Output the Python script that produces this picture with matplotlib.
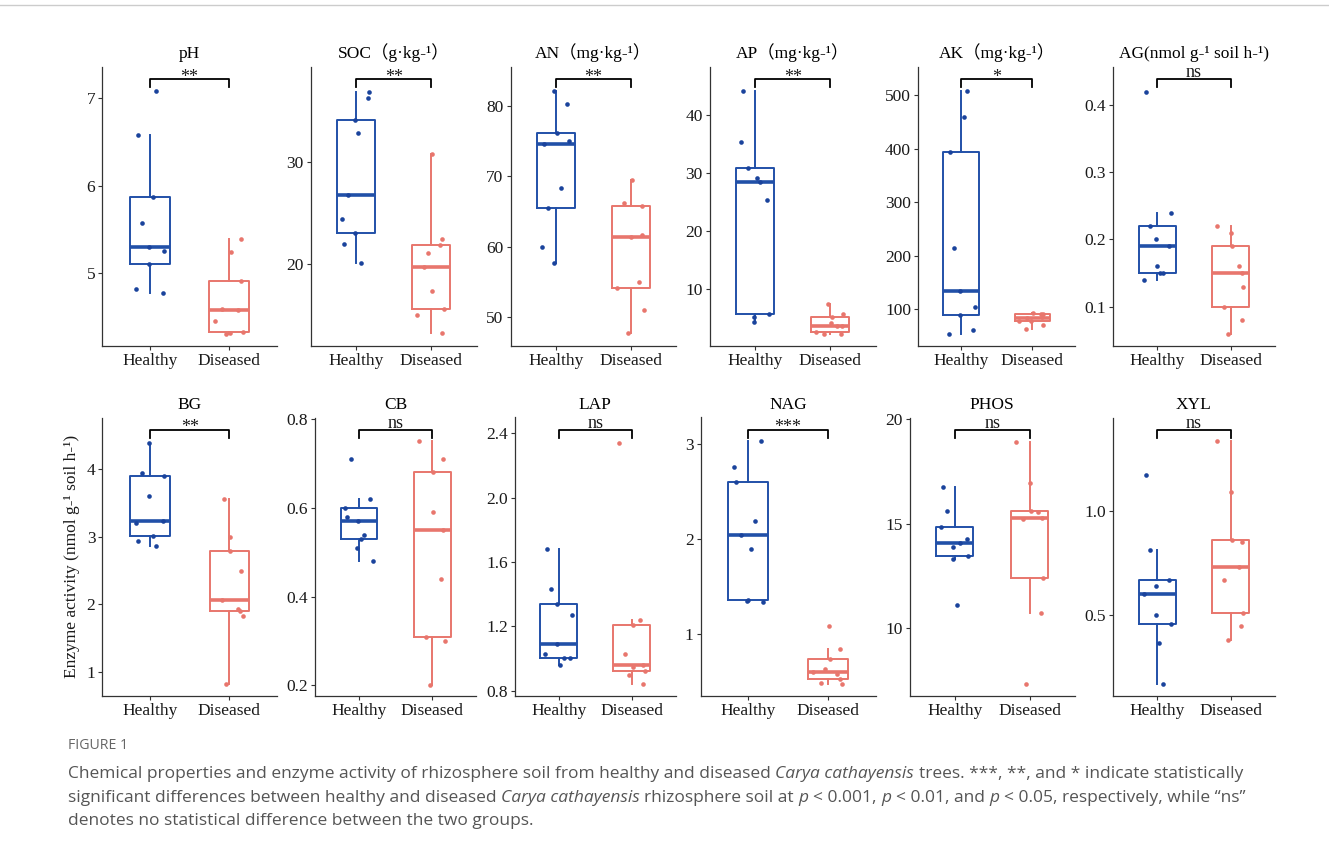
import matplotlib
matplotlib.use('Agg')
import matplotlib.pyplot as plt
import matplotlib.transforms as mtransforms
from matplotlib.lines import Line2D

# figure size in pixels (dpi 100)
W, H = 1329, 857

SERIF = ['Liberation Serif', 'Noto Sans CJK SC', 'DejaVu Sans']
SANS = ['Open Sans', 'DejaVu Sans']

C_HEALTHY = '#2150A8'
C_HEALTHY_PT = '#1A439C'
C_DISEASED = '#E8766D'

# ---- data ----
titles = ['pH', 'SOC（g·kg-¹）', 'AN（mg·kg-¹）', 'AP（mg·kg-¹）', 'AK（mg·kg-¹）',
          'AG(nmol g-¹ soil h-¹)', 'BG', 'CB', 'LAP', 'NAG', 'PHOS', 'XYL']
groups = ['Healthy', 'Diseased']
signif = ['**', '**', '**', '**', '*', 'ns', '**', 'ns', 'ns', '***', 'ns', 'ns']

healthy = [
    [7.08, 6.58, 5.87, 5.58, 5.30, 5.26, 5.11, 4.82, 4.78],
    [36.93, 36.34, 34.12, 32.84, 26.85, 24.41, 23.04, 22.03, 20.10],
    [82.09, 80.33, 76.11, 74.64, 74.98, 68.39, 65.55, 59.95, 57.68],
    [44.14, 35.34, 30.92, 29.14, 28.51, 25.34, 5.69, 5.17, 4.31],
    [506.8, 459.6, 393.0, 215.1, 134.2, 89.4, 103.7, 61.4, 54.0],
    [0.42, 0.24, 0.22, 0.20, 0.19, 0.16, 0.15, 0.15, 0.14],
    [4.39, 3.94, 3.90, 3.61, 3.21, 3.24, 3.01, 2.94, 2.87],
    [0.71, 0.62, 0.60, 0.58, 0.57, 0.54, 0.53, 0.51, 0.48],
    [1.68, 1.43, 1.34, 1.27, 1.09, 1.03, 1.00, 1.00, 0.96],
    [3.03, 2.76, 2.60, 2.19, 2.04, 1.89, 1.36, 1.35, 1.34],
    [16.74, 15.62, 14.84, 14.25, 14.09, 13.88, 13.32, 13.45, 11.10],
    [1.17, 0.81, 0.67, 0.64, 0.60, 0.50, 0.46, 0.37, 0.17],
]
diseased = [
    [5.39, 5.24, 4.91, 4.59, 4.58, 4.45, 4.33, 4.31, 4.32],
    [30.78, 22.45, 21.95, 21.14, 19.71, 17.39, 15.62, 15.03, 13.24],
    [69.53, 66.26, 65.73, 61.42, 61.71, 54.17, 55.02, 51.00, 47.68],
    [7.47, 5.69, 5.17, 4.25, 3.68, 2.59, 2.30, 2.30, 3.74],
    [93, 92, 91, 85, 83, 79, 78, 70, 64],
    [0.22, 0.21, 0.19, 0.16, 0.15, 0.13, 0.10, 0.08, 0.06],
    [3.56, 3.00, 2.79, 2.50, 2.06, 1.93, 1.90, 1.83, 0.82],
    [0.75, 0.71, 0.68, 0.59, 0.55, 0.44, 0.31, 0.30, 0.20],
    [2.34, 1.24, 1.21, 1.03, 0.96, 0.95, 0.92, 0.90, 0.84],
    [1.08, 0.84, 0.74, 0.63, 0.60, 0.58, 0.52, 0.48, 0.47],
    [18.91, 16.93, 15.58, 15.56, 15.22, 15.27, 12.40, 10.70, 7.30],
    [1.33, 1.09, 0.86, 0.85, 0.73, 0.67, 0.51, 0.45, 0.38],
]

# horizontal jitter (category units)
jitter_h = [
    [.075, -.155, .033, -.10, -.013, .184, -.013, -.176, .163],
    [.177, .159, -.018, .027, -.106, -.186, -.018, -.159, .066],
    [-.018, .155, .022, -.159, .177, .066, -.106, -.186, -.022],
    [-.159, -.186, -.097, .031, .071, .159, .181, -.018, -.018],
    [.079, .037, -.149, -.093, -.009, -.009, .191, .163, -.172],
    [-.155, .182, -.100, -.014, .159, -.009, .036, .073, -.177],
    [-.013, -.10, .183, -.017, -.175, .167, .033, -.15, .075],
    [-.105, .155, -.187, -.160, -.018, .073, .032, -.023, .183],
    [-.160, -.105, -.018, .183, -.018, -.183, .078, .155, .023],
    [.163, -.175, -.15, .079, -.092, .033, -.008, -.013, .188],
    [-.16, -.102, -.187, .16, .071, -.018, -.018, .182, .027],
    [-.155, -.1, .159, -.014, -.182, -.018, .182, .027, .073],
]
jitter_d = [
    [.151, .017, .151, -.088, .113, -.184, .172, -.042, .013],
    [.013, .146, .111, -.040, -.093, .004, .168, -.186, .146],
    [.018, -.093, .146, 0, .146, -.190, .106, .168, -.044],
    [-.035, .168, .018, .004, .155, -.186, -.088, .142, .084],
    [.014, .121, .153, .130, -.079, -.186, -.014, .153, -.088],
    [-.182, .009, .018, .109, .155, .173, -.091, .150, -.036],
    [-.071, .013, .004, .15, -.092, .108, .138, .167, -.046],
    [-.183, .151, .014, .009, .151, .114, -.091, .174, -.032],
    [-.178, .119, .018, -.087, .155, .018, .178, -.037, .155],
    [.008, .154, .021, -.042, -.188, .113, .15, -.088, .175],
    [-.187, .009, .022, .116, -.089, .16, .178, .151, -.044],
    [-.182, .009, .018, .15, .114, -.091, .168, .145, -.032],
]

yticks = [
    [5, 6, 7], [20, 30], [50, 60, 70, 80], [10, 20, 30, 40],
    [100, 200, 300, 400, 500], [0.1, 0.2, 0.3, 0.4], [1, 2, 3, 4],
    [0.2, 0.4, 0.6, 0.8], [0.8, 1.2, 1.6, 2.0, 2.4], [1, 2, 3],
    [10, 15, 20], [0.5, 1.0],
]
ylims = [
    (4.17, 7.36), (12.0, 39.38), (45.88, 85.6), (0.23, 48.39),
    (31.6, 552.9), (0.0415, 0.457), (0.64, 4.768), (0.176, 0.804),
    (0.767, 2.497), (0.346, 3.281), (6.74, 20.08), (0.115, 1.444),
]

# axes boxes in pixels: left, top, right, bottom
axes_px = [
    (102.3, 66.7, 276.8, 346), (310.8, 66.7, 476.5, 346),
    (510.5, 66.7, 676.2, 346), (709.8, 66.7, 875.5, 346),
    (918.0, 66.7, 1075.3, 346), (1113.3, 66.7, 1274.7, 346),
    (102.3, 417.5, 277.0, 696), (315.3, 417.5, 476.1, 696),
    (514.9, 417.5, 675.5, 696), (700.5, 417.5, 875.7, 696),
    (909.7, 417.5, 1074.7, 696), (1113.3, 417.5, 1274.7, 696),
]


def draw_panel(ax, i):
    for pos, vals, col, pcol, jit in [(1, healthy[i], C_HEALTHY, C_HEALTHY_PT, jitter_h[i]),
                                      (2, diseased[i], C_DISEASED, C_DISEASED, jitter_d[i])]:
        ax.boxplot([vals], positions=[pos], widths=0.5, whis=1.5,
                   showfliers=False, showcaps=False,
                   boxprops=dict(color=col, lw=1.4),
                   whiskerprops=dict(color=col, lw=1.4),
                   medianprops=dict(color=col, lw=2.6, solid_capstyle='butt'))
        ax.scatter([pos + j for j in jit], vals, s=11, color=pcol, zorder=3,
                   linewidths=0)

    ax.set_xlim(0.4, 2.6)
    ax.set_ylim(*ylims[i])
    ax.set_xticks([1, 2])
    ax.set_xticklabels(groups)
    ax.set_yticks(yticks[i])
    ax.set_yticklabels([f'{v:.1f}' if isinstance(v, float) else str(v) for v in yticks[i]])
    for lab in ax.get_xticklabels() + ax.get_yticklabels():
        lab.set_fontfamily(SERIF)
        lab.set_fontsize(12.5)
        lab.set_color('#1a1a1a')
    ax.tick_params(length=3, width=0.8, color='#333333', pad=2)
    for s in ['top', 'right']:
        ax.spines[s].set_visible(False)
    for s in ['left', 'bottom']:
        ax.spines[s].set_color('#333333')
        ax.spines[s].set_linewidth(0.9)

    ax.set_title(titles[i], fontfamily=SERIF, fontsize=12.5, pad=6)

    # significance bracket
    tr = mtransforms.blended_transform_factory(ax.transData, ax.transAxes)
    ax.plot([1, 1, 2, 2], [0.928, 0.956, 0.956, 0.928], transform=tr,
            color='black', lw=1.3, clip_on=False)
    label_y = 0.947 if '*' in signif[i] else 0.962
    ax.text(1.5, label_y, signif[i], transform=tr, ha='center', va='baseline',
            fontfamily=SERIF, fontsize=13, color='#1a1a1a')


def draw_runs(fig, x_px, y_px, runs, **kw):
    renderer = fig.canvas.get_renderer()
    p1 = fig.text(0, 0, 'xx', **kw)
    p2 = fig.text(0, 0, 'x x', **kw)
    space = p2.get_window_extent(renderer).width - p1.get_window_extent(renderer).width
    p1.remove()
    p2.remove()
    x = x_px
    for text, italic in runs:
        lead = len(text) - len(text.lstrip(' '))
        trail = len(text) - len(text.rstrip(' '))
        core = text.strip(' ')
        x += lead * space
        t = fig.text(x / W, 1 - y_px / H, core, style='italic' if italic else 'normal',
                     ha='left', va='baseline', **kw)
        x += t.get_window_extent(renderer).width + trail * space


def main():
    fig = plt.figure(figsize=(W / 100, H / 100), dpi=100)
    fig.patch.set_facecolor('white')

    fig.add_artist(Line2D([0, 1], [1 - 5 / H, 1 - 5 / H], color='#cccccc', lw=1))

    for i, (l, t, r, b) in enumerate(axes_px):
        ax = fig.add_axes([l / W, 1 - b / H, (r - l) / W, (b - t) / H])
        draw_panel(ax, i)

    fig.text(71.7 / W, 1 - 556.5 / H, 'Enzyme activity (nmol g-¹ soil h-¹)',
             rotation=90, ha='center', va='center', fontfamily=SERIF,
             fontsize=12.5, color='#1a1a1a')

    # caption
    fig.text(68 / W, 1 - 749 / H, 'FIGURE 1', fontfamily=SANS, fontsize=10.2,
             color='#666666', ha='left', va='baseline')
    cap = dict(fontfamily=SANS, fontsize=12.5, color='#555555')
    draw_runs(fig, 68, 778, [
        ('Chemical properties and enzyme activity of rhizosphere soil from healthy and diseased ', False),
        ('Carya cathayensis', True),
        (' trees. ***, **, and * indicate statistically', False)], **cap)
    draw_runs(fig, 68, 802, [
        ('significant differences between healthy and diseased ', False),
        ('Carya cathayensis', True),
        (' rhizosphere soil at ', False), ('p', True), (' < 0.001, ', False),
        ('p', True), (' < 0.01, and ', False), ('p', True),
        (' < 0.05, respectively, while “ns”', False)], **cap)
    draw_runs(fig, 68, 825, [
        ('denotes no statistical difference between the two groups.', False)], **cap)

    fig.savefig('out.png', dpi=100, facecolor='white')
    plt.close(fig)


if __name__ == '__main__':
    main()
